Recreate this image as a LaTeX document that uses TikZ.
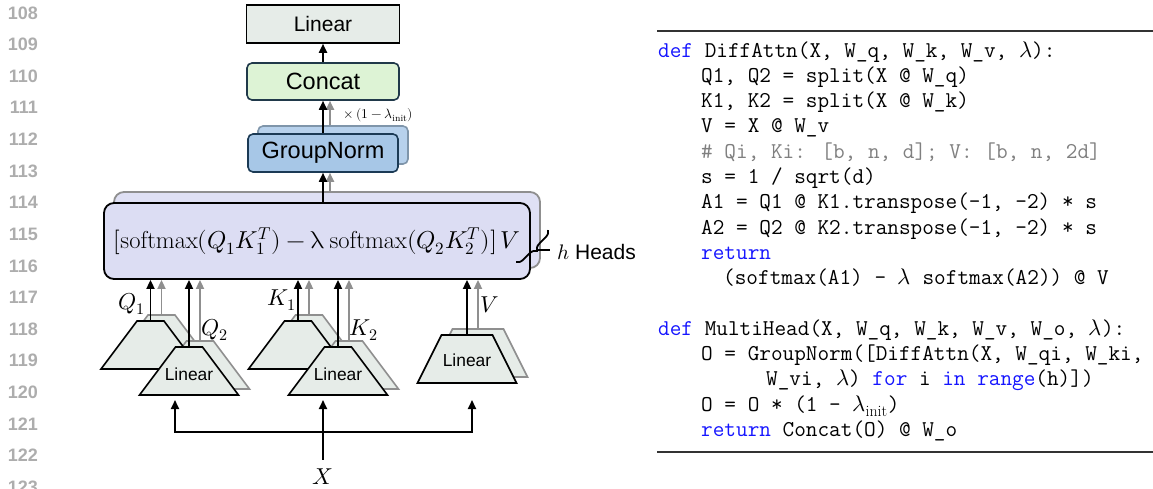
\documentclass[tikz,border=0pt]{standalone}
\usepackage{fontspec}
\usepackage{unicode-math}
\setsansfont{Liberation Sans}
\usetikzlibrary{arrows.meta,decorations.pathreplacing}

\definecolor{linfill}{HTML}{E6ECE8}
\definecolor{catfill}{HTML}{DDF3D5}
\definecolor{catdraw}{HTML}{20394A}
\definecolor{gnfill}{HTML}{A7C7E7}
\definecolor{gnback}{HTML}{B7D1EC}
\definecolor{gndraw}{HTML}{1B3A55}
\definecolor{gnshade}{HTML}{7F95AA}
\definecolor{attnfill}{HTML}{DCDDF3}
\definecolor{shadow}{HTML}{8F8F8F}
\definecolor{kwblue}{HTML}{1515FF}
\definecolor{cmtgray}{HTML}{808080}

\newcommand\kw[1]{\textcolor{kwblue}{#1}}
% trapezoid: name, x, y (centre), top half width, style
\newcommand\linproj[5]{%
  \draw[#5] ({#2-49.5},{#3+24}) -- ({#2-#4},{#3-24}) -- ({#2+#4},{#3-24})
    -- ({#2+49.5},{#3+24}) -- cycle;
  \coordinate (#1) at (#2,{#3-24});
  \coordinate (#1c) at (#2,#3);}

\begin{document}
\begin{tikzpicture}[x=1pt, y=-1pt,
    box/.style={draw, line width=1.6pt, minimum width=153pt, minimum height=38pt,
                inner sep=0pt, font=\sffamily\fontsize{21}{21}\selectfont},
    rbox/.style={box, rounded corners=5pt, font=\sffamily\fontsize{23.5}{23.5}\selectfont},
    abox/.style={draw, line width=1.8pt, fill=attnfill, rounded corners=10pt,
                 minimum width=426pt, minimum height=76pt, inner sep=0pt,
                 font=\fontsize{24.5}{24.5}\selectfont},
    trap/.style={draw, line width=1.6pt, fill=linfill},
    tshade/.style={trap, draw=shadow},
    tlabel/.style={font=\sffamily\fontsize{17.4}{17.4}\selectfont, inner sep=0pt},
    mlab/.style={font=\fontsize{23}{23}\selectfont, inner sep=1pt},
    arr/.style={-{Triangle[length=9pt,width=8pt]}, line width=1.8pt},
    garr/.style={arr, color=shadow},
    lnum/.style={anchor=east, inner sep=0pt, text=black!32,
                 font=\sffamily\bfseries\fontsize{18}{18}\selectfont},
    code/.style={anchor=base west, inner sep=0pt,
                 font=\ttfamily\fontsize{22.6}{25}\selectfont},
    rule/.style={line width=1.1pt, draw=black!80}]
  \useasboundingbox (0,0) rectangle (1153,488);

  % line numbers
  \foreach \n [count=\i from 0] in {108,...,123}
    \node[lnum] (ln\n) at (38, {13+31.6*\i}) {\n};

  % output stack
  \node[box, fill=linfill] (lin) at (323,24) {Linear};
  \node[rbox, fill=catfill, draw=catdraw, minimum width=152pt, minimum height=37pt] (cat) at (323,81.5) {Concat};
  \node[rbox, fill=gnback, draw=gnshade, minimum width=150pt] (gnb) at (333,145) {};
  \node[rbox, fill=gnfill, draw=gndraw, minimum width=150pt] (gn) at (323,153) {GroupNorm};

  % differential attention, h heads
  \node[abox, draw=shadow, fill=attnfill!92!white] (attnb) at (327,230) {};
  \node[abox] (attn) at (317,241)
    {$[\mathrm{softmax}(Q_1K_1^T)-\symup{\lambda}\,\mathrm{softmax}(Q_2K_2^T)]\,V$};

  % projections (shadows first)
  \linproj{sq1}{161.5}{339}{13.5}{tshade}
  \linproj{sk1}{309}{339}{13.5}{tshade}
  \linproj{sq2}{200}{365}{13.5}{tshade}
  \linproj{sk2}{349}{365}{13.5}{tshade}
  \linproj{sv}{478}{353}{25.5}{tshade}
  \linproj{q1}{150.5}{345}{13.5}{trap}
  \linproj{k1}{298}{345}{13.5}{trap}
  \linproj{q2}{189}{371}{13.5}{trap}
  \linproj{k2}{338}{371}{13.5}{trap}
  \linproj{v}{467}{359}{25.5}{trap}
  \node[tlabel] (q2t) at ([yshift=-3pt]q2c) {Linear};
  \node[tlabel] (k2t) at ([yshift=-3pt]k2c) {Linear};
  \node[tlabel] (vt) at ([yshift=-1pt]vc) {Linear};

  % arrows up
  \foreach \t in {q1,q2,k1,k2,v}
    \draw[garr] (s\t) -- (s\t |- attn.south);
  \foreach \t in {q1,q2,k1,k2,v}
    \draw[arr] (\t) -- (\t |- attn.south);
  \draw[garr] ([xshift=7pt]gn.south |- attnb.north) -- ([xshift=7pt]gn.south);
  \draw[arr] (gn.south |- attn.north) -- (gn.south);
  \draw[garr] ([xshift=7pt]cat.south |- gnb.north) -- ([xshift=7pt]cat.south);
  \draw[arr] (gn.north) -- (cat.south);
  \draw[arr] (cat.north) -- (lin.south);
  \node[font=\fontsize{13.5}{13.5}\selectfont, inner sep=0pt] (scale) at (378,115)
    {${\times}\,(1-\lambda_{\mathrm{init}})$};

  % labels
  \node[mlab] (lq1) at (132,304) {$Q_1$};
  \node[mlab] (lq2) at (215,330) {$Q_2$};
  \node[mlab] (lk1) at (282,300) {$K_1$};
  \node[mlab] (lk2) at (364,330) {$K_2$};
  \node[mlab] (lv) at (490,305) {$V$};

  % heads brace
  \coordinate (bra) at (548,230);
  \coordinate (brb) at (516,262);
  \coordinate (brtip) at (537,250);
  \draw[line width=1.8pt, decorate, decoration={brace, amplitude=7pt}] (bra) -- (brb);
  \node[font=\sffamily\fontsize{21}{21}\selectfont, inner sep=2pt, anchor=west] (heads) at (555,252) {$h$ Heads};
  \draw[line width=1.3pt, shorten >=5pt] (brtip) -- (heads.west |- brtip);

  % input X
  \node[mlab] (x) at (323,477) {$X$};
  \coordinate (tl) at (175,400);
  \coordinate (bl) at (175,432);
  \coordinate (br) at (472,432);
  \coordinate (tr) at (472,400);
  \coordinate (tm) at (323,400);
  \draw[{Triangle[length=9pt,width=8pt]}-{Triangle[length=9pt,width=8pt]}, line width=1.8pt] (tl) -- (bl) -- (br) -- (tr);
  \draw[arr] ([yshift=8pt]x.north) -- (tm);

  % pseudo code
  \draw[rule] (657,31) -- (1153,31);
  \draw[rule] (657,452) -- (1153,452);
  \node[code] (c1) at (658,57) {\kw{def} DiffAttn(X, W\_q, W\_k, W\_v, $\lambda$):};
  \node[code] (c2) at (701,82.3) {Q1, Q2 = split(X @ W\_q)};
  \node[code] (c3) at (701,107.6) {K1, K2 = split(X @ W\_k)};
  \node[code] (c4) at (701,132.9) {V = X @ W\_v};
  \node[code, text=cmtgray] (c5) at (701,158.2) {\# Qi, Ki: [b, n, d]; V: [b, n, 2d]};
  \node[code] (c6) at (701,183.5) {s = 1 / sqrt(d)};
  \node[code] (c7) at (701,208.8) {A1 = Q1 @ K1.transpose(-1, -2) * s};
  \node[code] (c8) at (701,234.1) {A2 = Q2 @ K2.transpose(-1, -2) * s};
  \node[code] (c9) at (701,259.4) {\kw{return}};
  \node[code] (c10) at (723,284.7) {(softmax(A1) - $\lambda$ softmax(A2)) @ V};
  \node[code] (c11) at (658,335.3) {\kw{def} MultiHead(X, W\_q, W\_k, W\_v, W\_o, $\lambda$):};
  \node[code] (c12) at (701,360.6) {O = GroupNorm([DiffAttn(X, W\_qi, W\_ki,};
  \node[code] (c13) at (766,385.9) {W\_vi, $\lambda$) \kw{for} i \kw{in} \kw{range}(h)])};
  \node[code] (c14) at (701,411.2) {O = O * (1 - $\lambda_{\mathrm{init}}$)};
  \node[code] (c15) at (701,436.5) {\kw{return} Concat(O) @ W\_o};
\end{tikzpicture}
\end{document}
